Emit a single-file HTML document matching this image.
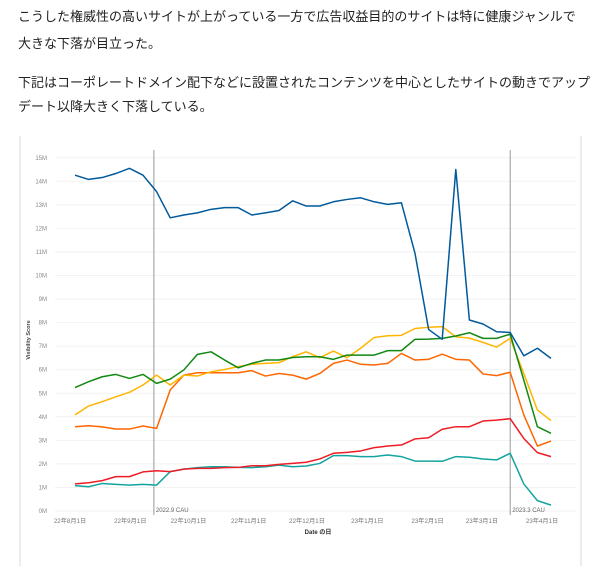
<!DOCTYPE html>
<html><head><meta charset="utf-8">
<style>
body{margin:0;width:600px;height:555px;overflow:hidden;background:#fff;font-family:"Liberation Sans","Noto Sans CJK JP",sans-serif;}
.txt{position:absolute;left:18px;font-size:13px;color:#222;line-height:16px;white-space:nowrap;}
#card{position:absolute;left:19px;top:136px;width:559px;height:430px;border-left:2px solid #ececec;border-right:2px solid #ececec;}
svg{position:absolute;left:0;top:0;}
</style></head><body>
<div class="txt" style="top:9px">こうした権威性の高いサイトが上がっている一方で広告収益目的のサイトは特に健康ジャンルで</div>
<div class="txt" style="top:36px">大きな下落が目立った。</div>
<div class="txt" style="top:75px">下記はコーポレートドメイン配下などに設置されたコンテンツを中心としたサイトの動きでアップ</div>
<div class="txt" style="top:99px">デート以降大きく下落している。</div>
<div id="card"></div>
<svg id="chart" width="600" height="555"></svg>
<script>
const yTicks=[0,1,2,3,4,5,6,7,8,9,10,11,12,13,14,15];
const xLabels=["22年8月1日","22年9月1日","22年10月1日","22年11月1日","22年12月1日","23年1月1日","23年2月1日","23年3月1日","23年4月1日"];
const xLabelWeeks=[0,4.43,8.71,13.14,17.43,21.86,26.29,30.29,34.71];
const cauLines=[{week:5.8,label:"2022.9 CAU"},{week:32.0,label:"2023.3 CAU"}];
const blue=[14.26,14.08,14.16,14.33,14.55,14.26,13.56,12.45,12.57,12.66,12.81,12.88,12.88,12.57,12.66,12.76,13.17,12.95,12.95,13.13,13.23,13.30,13.13,13.02,13.09,10.94,7.71,7.29,14.50,8.11,7.94,7.61,7.58,6.59,6.91,6.48];
const green=[5.24,5.49,5.70,5.80,5.63,5.80,5.42,5.60,5.99,6.65,6.76,6.41,6.08,6.27,6.41,6.41,6.52,6.55,6.55,6.44,6.62,6.62,6.62,6.81,6.81,7.29,7.30,7.33,7.43,7.57,7.33,7.33,7.51,5.56,3.58,3.30];
const yellow=[4.08,4.46,4.64,4.85,5.04,5.35,5.77,5.35,5.77,5.73,5.91,6.01,6.13,6.23,6.27,6.30,6.55,6.76,6.51,6.79,6.51,6.91,7.37,7.44,7.46,7.75,7.80,7.83,7.40,7.34,7.16,6.96,7.33,5.84,4.29,3.84];
const orange=[3.58,3.62,3.57,3.48,3.48,3.61,3.51,5.14,5.77,5.87,5.87,5.87,5.87,5.96,5.73,5.84,5.77,5.60,5.84,6.27,6.41,6.23,6.20,6.27,6.69,6.41,6.44,6.66,6.44,6.41,5.82,5.75,5.89,4.08,2.76,2.97];
const red=[1.15,1.20,1.29,1.46,1.46,1.66,1.71,1.67,1.78,1.81,1.81,1.84,1.85,1.92,1.92,1.98,2.02,2.07,2.21,2.45,2.49,2.55,2.69,2.76,2.80,3.06,3.11,3.47,3.58,3.58,3.82,3.86,3.92,3.08,2.48,2.31];
const teal=[1.08,1.03,1.17,1.13,1.10,1.13,1.10,1.67,1.78,1.84,1.88,1.88,1.85,1.84,1.88,1.95,1.88,1.91,2.02,2.35,2.35,2.31,2.31,2.38,2.31,2.12,2.12,2.11,2.31,2.28,2.21,2.17,2.45,1.15,0.44,0.25];

const svg=document.getElementById('chart');
const NS='http://www.w3.org/2000/svg';
const X0=75,DX=13.6,Y0=511,PX=23.55;
const xs=i=>X0+DX*i;
const ys=v=>Y0-v*PX;
function mk(tag,attrs,text){const e=document.createElementNS(NS,tag);for(const k in attrs)e.setAttribute(k,attrs[k]);if(text!==undefined)e.textContent=text;svg.appendChild(e);return e;}
yTicks.forEach(t=>{
  const g=mk('line',{x1:55,x2:576,y1:ys(t),y2:ys(t),stroke:'#f2f2f2','stroke-width':1});
  
  
  const l=mk('text',{x:47,y:ys(t)+2,'font-size':6,fill:'#888','text-anchor':'end'},t+'M');
  
  
});
xLabels.forEach((s,i)=>{
  const l=mk('text',{x:xs(xLabelWeeks[i])-5,y:523,'font-size':6.2,fill:'#777','text-anchor':'middle'},s);
  
  
});
cauLines.forEach(c=>{
  const ln=mk('line',{x1:xs(c.week),x2:xs(c.week),y1:150,y2:515,stroke:'#999','stroke-width':1});
  
  
  const t=mk('text',{x:xs(c.week)+2,y:512,'font-size':6,fill:'#666'},c.label);
  
  
});
const yt=mk('text',{x:0,y:0,'font-size':5.5,fill:'#444','font-weight':'bold','text-anchor':'middle',transform:'translate(30,340) rotate(-90)'},'Visibility Score');


const xt=mk('text',{x:318,y:534,'font-size':6,fill:'#333','font-weight':'bold','text-anchor':'middle'},'Date の日');


const series=[[teal,'#13a3a0','series-teal'],[red,'#ee1c25','series-red'],[orange,'#ff6600','series-orange'],[yellow,'#ffb400','series-yellow'],[green,'#118811','series-green'],[blue,'#005a9c','series-blue']];
series.forEach(([d,c,n])=>{
  const p=mk('polyline',{points:d.map((v,i)=>xs(i)+','+ys(v)).join(' '),fill:'none',stroke:c,'stroke-width':1.5,'stroke-linejoin':'round'});
  
  
});
</script>
</body></html>
